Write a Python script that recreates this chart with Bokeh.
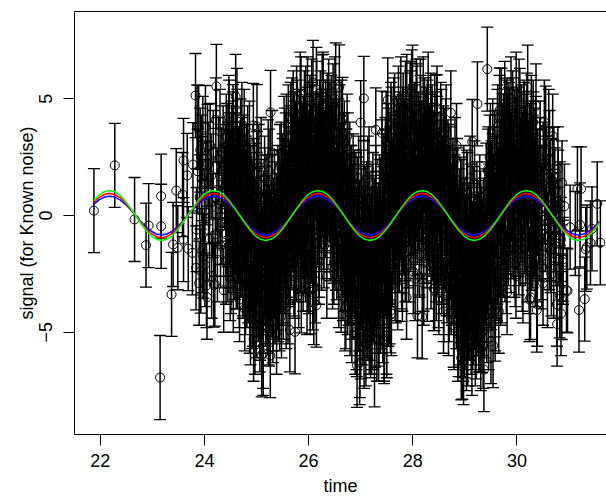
import numpy as np
from bokeh.plotting import figure
from bokeh.models import FixedTicker, LinearAxis, Range1d
from bokeh.embed import file_html
from bokeh.resources import INLINE

# ---------------- data ----------------
known_sigma = 1.8  # half-length of every error bar

# sparse observations on the left
t_left = [21.88, 22.28, 22.66, 22.88, 22.93, 23.15, 23.17, 23.17, 23.37, 23.40,
          23.46, 23.49, 23.58, 23.60, 23.60, 23.67, 23.69, 23.77, 23.78, 23.83,
          23.84, 23.86, 23.89, 23.92, 23.93, 23.95, 23.98, 24.02, 24.04, 24.06,
          24.18, 24.20, 24.23]
v_left = [0.21, 2.15, -0.17, -1.27, -0.43, -6.94, 0.83, -0.46, -3.38, -1.24,
          1.07, -1.38, 0.90, 2.36, -1.03, 1.72, -1.42, -1.60, 2.18, 5.14,
          -2.24, 3.79, 3.78, 2.80, -2.38, 1.58, -1.74, 3.77, -3.00, 2.96,
          -2.98, -2.94, 5.53]

t_trans = [23.85, 23.87, 23.90, 23.91, 23.94, 23.96, 23.97, 24.00, 24.01, 24.03,
           24.05, 24.07, 24.08, 24.10, 24.11, 24.13, 24.14, 24.16, 24.17, 24.21,
           24.22, 24.24, 24.25, 24.27, 24.28, 24.30, 24.31, 24.33, 24.34, 24.36,
           24.37, 24.39]
v_trans = [-0.6, 1.9, -2.9, 0.8, 2.5, -1.5, 3.3, 0.2, -2.1, 1.4,
           -3.5, 2.2, 0.6, -1.0, 3.0, 1.7, -2.6, 0.0, 2.7, -0.8,
           4.1, 1.1, -1.9, 2.4, 0.5, 3.6, -1.3, 1.9, -0.3, 2.9,
           -3.2, 1.2]

# dense core, first pass 24.4 - 25.9
t_core1 = [24.40, 24.41, 24.42, 24.43, 24.45, 24.46, 24.47, 24.48, 24.49, 24.51,
           24.52, 24.53, 24.54, 24.55, 24.56, 24.58, 24.59, 24.60, 24.61, 24.62,
           24.63, 24.65, 24.66, 24.67, 24.68, 24.69, 24.70, 24.72, 24.73, 24.74,
           24.75, 24.76, 24.77, 24.79, 24.80, 24.81, 24.82, 24.83, 24.84, 24.86,
           24.87, 24.88, 24.89,
           24.90, 24.91, 24.93, 24.94, 24.95, 24.96, 24.97, 24.99, 25.00, 25.01,
           25.02, 25.03, 25.04, 25.06, 25.07, 25.08, 25.09, 25.10, 25.11, 25.13,
           25.14, 25.15, 25.16, 25.17, 25.18, 25.20, 25.21, 25.22, 25.23, 25.24,
           25.25, 25.27, 25.28, 25.29, 25.30, 25.31, 25.32, 25.34, 25.35, 25.36,
           25.37, 25.38,
           25.40, 25.41, 25.42, 25.44, 25.45, 25.46, 25.47, 25.48, 25.49, 25.50,
           25.52, 25.53, 25.54, 25.55, 25.56, 25.57, 25.58, 25.59, 25.61, 25.62,
           25.63, 25.64, 25.65, 25.66, 25.67, 25.68, 25.70, 25.71, 25.72, 25.73,
           25.74, 25.75, 25.76, 25.77, 25.79, 25.80, 25.81, 25.82, 25.83, 25.84,
           25.85, 25.86, 25.88, 25.89]
v_core1 = [2.1, -0.8, 3.4, 0.5, -1.9, 1.7, 4.2, -0.3, 2.6, -2.4,
           1.1, 0.2, 3.1, -1.5, 2.8, -0.6, 1.9, 5.1, -2.2, 0.9,
           3.6, -1.1, 1.4, -3.0, 2.2, 0.4, -1.7, 3.9, 1.0, -2.6,
           0.1, 2.5, -0.9, -3.3, 1.6, 0.7, -1.4, 2.9, -2.8, 0.3,
           -4.1, 1.2, -0.5,
           -2.3, 0.6, -3.8, -0.4, 1.5, -1.9, -5.0, -0.2, -2.7, 1.8,
           -1.2, -3.4, 0.3, -2.0, -4.4, -0.8, 2.4, -1.6, -3.1, -5.9,
           -0.1, -2.5, 1.1, -1.3, -3.7, 0.8, -2.9, -0.7, -4.6, 1.9,
           -1.8, -3.2, -0.3, -2.2, 2.7, -1.0, -4.0, -2.6, 0.5, -1.5,
           -3.5, 0.0,
           -1.9, 1.2, -3.6, -0.5, 2.1, -2.4, 0.4, -4.3, -1.1, 1.7,
           -2.8, 3.3, -0.2, -1.6, 2.6, -3.9, 0.9, -0.8, 3.8, -2.1,
           1.4, -4.9, 0.2, 2.9, -1.3, 4.1, -0.6, 1.8, -2.5, 3.5,
           0.7, -1.8, 2.3, 4.6, -0.4, 1.1, -3.0, 2.7, 0.3, 5.2,
           -1.5, 1.9, 3.0, -0.9]

# dense core, first pass 25.9 - 27.4
t_core2 = [25.90, 25.91, 25.92, 25.93, 25.94, 25.96, 25.97, 25.98, 25.99, 26.00,
           26.01, 26.02, 26.03, 26.05, 26.06, 26.07, 26.08, 26.09, 26.10, 26.11,
           26.12, 26.14, 26.15, 26.16, 26.17, 26.18, 26.19, 26.20, 26.21, 26.23,
           26.24, 26.25, 26.26, 26.27, 26.28, 26.29, 26.30, 26.32, 26.33, 26.34,
           26.35, 26.36, 26.37, 26.38,
           26.40, 26.41, 26.42, 26.43, 26.44, 26.46, 26.47, 26.48, 26.49, 26.50,
           26.51, 26.52, 26.54, 26.55, 26.56, 26.57, 26.58, 26.59, 26.60, 26.62,
           26.63, 26.64, 26.65, 26.66, 26.67, 26.68, 26.70, 26.71, 26.72, 26.73,
           26.74, 26.75, 26.76, 26.78, 26.79, 26.80, 26.81, 26.82, 26.83, 26.84,
           26.86, 26.87, 26.88,
           26.90, 26.91, 26.92, 26.94, 26.95, 26.96, 26.97, 26.98, 26.99, 27.00,
           27.02, 27.03, 27.04, 27.05, 27.06, 27.07, 27.08, 27.10, 27.11, 27.12,
           27.13, 27.14, 27.15, 27.16, 27.18, 27.19, 27.20, 27.21, 27.22, 27.23,
           27.24, 27.26, 27.27, 27.28, 27.29, 27.30, 27.31, 27.32, 27.34, 27.35,
           27.36, 27.37, 27.38]
v_core2 = [2.4, -0.7, 4.4, 1.3, -1.9, 3.1, 0.6, 5.0, -2.3, 2.0,
           1.1, 3.8, -0.9, 2.7, 4.9, 0.1, -3.1, 1.6, 3.4, 0.8,
           -1.2, 2.3, 5.4, 1.0, -0.3, 3.0, 1.9, -2.0, 4.0, 0.4,
           2.6, -1.4, 3.6, 1.2, 5.1, -0.5, 2.2, 0.0, 3.3, 1.7,
           -2.6, 4.3, 0.9, 2.8,
           1.5, 3.9, -0.6, 2.4, 0.2, -2.2, 4.7, 1.0, -1.1, 2.9,
           0.5, 5.6, -1.8, 1.3, -0.2, 3.2, -3.0, 0.9, 2.1, -1.4,
           4.0, -0.8, 1.6, -2.7, 0.3, 2.6, -4.0, -0.5, 1.9, -1.9,
           3.4, -3.3, 0.1, -1.2, 2.2, -2.8, -0.4, 1.2, -4.5, -1.6,
           0.7, -2.4, 1.0,
           -2.6, 0.9, -4.8, -1.3, -3.5, 1.6, -0.4, -6.3, -2.1, -5.2,
           0.2, -3.0, -1.0, -4.2, 1.4, -2.4, -0.7, -5.5, -3.6, 0.5,
           -1.9, -4.4, -2.8, 2.0, -0.9, -3.9, -1.7, -5.0, 0.4, -2.3,
           -3.3, -0.2, -4.7, -1.4, 1.2, -2.9, -5.3, -0.6, -3.7, -1.5,
           0.8, -2.2, -4.1]

# dense core, first pass 27.4 - 28.9
t_core3 = [27.40, 27.41, 27.42, 27.43, 27.45, 27.46, 27.47, 27.48, 27.49, 27.50,
           27.51, 27.53, 27.54, 27.55, 27.56, 27.57, 27.58, 27.59, 27.61, 27.62,
           27.63, 27.64, 27.65, 27.66, 27.67, 27.69, 27.70, 27.71, 27.72, 27.73,
           27.74, 27.75, 27.77, 27.78, 27.79, 27.80, 27.81, 27.82, 27.83, 27.85,
           27.86, 27.87, 27.88,
           27.90, 27.91, 27.93, 27.94, 27.95, 27.96, 27.97, 27.98, 27.99, 28.01,
           28.02, 28.03, 28.04, 28.05, 28.06, 28.07, 28.09, 28.10, 28.11, 28.12,
           28.13, 28.14, 28.15, 28.17, 28.18, 28.19, 28.20, 28.21, 28.22, 28.23,
           28.25, 28.26, 28.27, 28.28, 28.29, 28.30, 28.31, 28.33, 28.34, 28.35,
           28.36, 28.37, 28.38,
           28.40, 28.41, 28.42, 28.43, 28.45, 28.46, 28.47, 28.48, 28.49, 28.50,
           28.51, 28.53, 28.54, 28.55, 28.56, 28.57, 28.58, 28.59, 28.61, 28.62,
           28.63, 28.64, 28.65, 28.66, 28.67, 28.69, 28.70, 28.71, 28.72, 28.73,
           28.74, 28.75, 28.77, 28.78, 28.79, 28.80, 28.81, 28.82, 28.83, 28.85,
           28.86, 28.87, 28.88]
v_core3 = [-1.2, 2.3, -3.4, 0.6, -5.4, -0.8, 1.9, -2.5, 3.5, -1.6,
           0.0, -3.8, 2.8, -0.3, -2.0, 1.4, 3.9, -4.2, 0.8, -1.1,
           2.5, -0.5, 4.3, -2.7, 1.1, -0.1, 3.2, -3.1, 1.7, 0.3,
           -1.5, 2.9, 5.0, -0.7, 1.5, -2.3, 3.7, 0.4, 2.0, -1.0,
           4.8, 0.9, -3.5,
           1.8, -1.3, 3.6, 0.5, 4.8, -0.6, 2.2, 5.3, 1.0, -2.4,
           2.7, 0.2, 3.9, -0.9, 1.5, 4.6, -4.3, 2.0, 0.7, 3.1,
           -1.7, 1.2, 4.2, -0.2, 2.5, 0.8, 5.0, -2.9, 1.9, 3.4,
           0.0, -1.1, 2.8, 4.0, 1.3, -0.4, 3.0, 0.6, 2.3, -2.2,
           1.6, 3.8, -0.8,
           2.6, -0.5, 4.2, 1.1, -2.7, 0.4, 3.3, -1.6, 1.8, -3.3,
           0.9, 2.5, -0.9, 3.6, -2.0, 0.1, 1.4, -4.1, 2.8, -1.3,
           0.6, 3.8, -2.5, 1.0, -0.7, 2.1, -3.6, 0.3, -1.8, 4.4,
           -0.4, -2.9, 1.5, -1.0, -4.8, 0.7, 2.4, -2.2, -0.3, -3.9,
           1.1, -1.5, -5.1]

# dense core, first pass 28.9 - 30.4
t_core4 = [28.90, 28.91, 28.92, 28.93, 28.94, 28.95, 28.96, 28.97, 28.98, 28.99,
           29.00, 29.01, 29.02, 29.03, 29.04, 29.05, 29.06, 29.07, 29.08, 29.09,
           29.10, 29.11, 29.12, 29.13, 29.14, 29.15, 29.16, 29.17, 29.18, 29.19,
           29.20, 29.21, 29.22, 29.23, 29.24, 29.25, 29.26, 29.27, 29.28, 29.29,
           29.30, 29.31, 29.32, 29.33, 29.35, 29.36, 29.37, 29.38,
           29.40, 29.41, 29.42, 29.43, 29.45, 29.46, 29.47, 29.48, 29.49, 29.50,
           29.51, 29.53, 29.54, 29.55, 29.56, 29.57, 29.58, 29.60, 29.61, 29.62,
           29.63, 29.64, 29.65, 29.67, 29.68, 29.69, 29.70, 29.71, 29.72, 29.74,
           29.75, 29.76, 29.77, 29.78, 29.79, 29.81, 29.82, 29.83, 29.84, 29.85,
           29.86, 29.88, 29.89,
           29.90, 29.91, 29.92, 29.94, 29.95, 29.96, 29.97, 29.98, 30.00, 30.01,
           30.02, 30.03, 30.04, 30.06, 30.07, 30.08, 30.09, 30.10, 30.12, 30.13,
           30.14, 30.15, 30.16, 30.18, 30.19, 30.20, 30.21, 30.22, 30.24, 30.25,
           30.26, 30.27, 30.28, 30.30, 30.31, 30.32, 30.33, 30.35, 30.36, 30.37,
           30.39, 30.40]
v_core4 = [-1.9, -4.6, 0.7, -6.1, -2.6, -0.4, -3.8, -5.3, 1.2, -2.1,
           -4.0, -0.9, -3.2, -5.7, -1.5, 0.9, -2.8, -4.4, -1.0, -3.5,
           1.6, -2.3, -5.0, -0.6, -3.0, -4.8, -1.7, 0.3, -3.9, -2.0,
           -5.5, -1.2, -3.4, 0.5, -2.5, -4.2, -0.8, -3.1, -1.4, -4.9,
           0.1, -2.7, -1.1, -3.6, -5.6, -0.2, -2.4, -4.3,
           -2.2, 1.3, -4.5, -0.6, 2.0, -3.0, 0.4, -1.8, 3.0, -5.4,
           -0.9, 1.7, -2.6, 0.8, -1.2, 2.7, -3.4, 0.0, 1.5, -2.0,
           3.8, -0.5, -4.1, 2.2, 0.6, -1.4, 4.5, -2.8, 1.0, 3.4,
           -0.3, 2.5, -1.9, 0.9, 4.0, -3.3, 1.8, -0.7, 2.9, 0.3,
           3.6, -1.5, 1.2,
           2.6, -0.4, 4.1, 1.4, -1.7, 3.2, 0.5, -2.6, 2.0, 3.7,
           -0.8, 1.1, 4.9, -1.2, 2.4, 0.2, 3.5, -2.3, 1.6, 3.9,
           0.7, -0.6, 2.8, 1.3, 4.3, -1.9, 0.9, 2.1, -3.6, 1.7,
           3.1, 0.0, -1.4, 2.5, 4.0, -0.9, 1.0, -2.1, 3.3, 0.4,
           -3.8, 1.9]

# dense core, second pass (interleaved times) 24.4 - 27.4
t_core5 = [24.405, 24.415, 24.425, 24.435, 24.445, 24.455, 24.465, 24.475, 24.485, 24.495,
           24.505, 24.515, 24.525, 24.535, 24.545, 24.555, 24.565, 24.575, 24.585, 24.595,
           24.605, 24.615, 24.625, 24.635, 24.645, 24.655, 24.665, 24.675, 24.685, 24.695,
           24.705, 24.715, 24.725, 24.735, 24.745, 24.755, 24.765, 24.775, 24.785, 24.795,
           24.805, 24.815, 24.825, 24.835, 24.845, 24.855, 24.865, 24.875, 24.885, 24.895,
           24.905, 24.915, 24.925, 24.935, 24.945, 24.955, 24.965, 24.975, 24.985, 24.995,
           25.005, 25.015, 25.025, 25.035, 25.045, 25.055, 25.065, 25.075, 25.085, 25.095,
           25.105, 25.115, 25.125, 25.135, 25.145, 25.155, 25.165, 25.175, 25.185, 25.195,
           25.205, 25.215, 25.225, 25.235, 25.245, 25.255, 25.265, 25.275, 25.285, 25.295,
           25.305, 25.315, 25.325, 25.335, 25.345, 25.355, 25.365, 25.375, 25.385, 25.395,
           25.405, 25.415, 25.425, 25.435, 25.445, 25.455, 25.465, 25.475, 25.485, 25.495,
           25.505, 25.515, 25.525, 25.535, 25.545, 25.555, 25.565, 25.575, 25.585, 25.595,
           25.605, 25.615, 25.625, 25.635, 25.645, 25.655, 25.665, 25.675, 25.685, 25.695,
           25.705, 25.715, 25.725, 25.735, 25.745, 25.755, 25.765, 25.775, 25.785, 25.795,
           25.805, 25.815, 25.825, 25.835, 25.845, 25.855, 25.865, 25.875, 25.885, 25.895,
           25.905, 25.915, 25.925, 25.935, 25.945, 25.955, 25.965, 25.975, 25.985, 25.995,
           26.005, 26.015, 26.025, 26.035, 26.045, 26.055, 26.065, 26.075, 26.085, 26.095,
           26.105, 26.115, 26.125, 26.135, 26.145, 26.155, 26.165, 26.175, 26.185, 26.195,
           26.205, 26.215, 26.225, 26.235, 26.245, 26.255, 26.265, 26.275, 26.285, 26.295,
           26.305, 26.315, 26.325, 26.335, 26.345, 26.355, 26.365, 26.375, 26.385, 26.395,
           26.405, 26.415, 26.425, 26.435, 26.445, 26.455, 26.465, 26.475, 26.485, 26.495,
           26.505, 26.515, 26.525, 26.535, 26.545, 26.555, 26.565, 26.575, 26.585, 26.595,
           26.605, 26.615, 26.625, 26.635, 26.645, 26.655, 26.665, 26.675, 26.685, 26.695,
           26.705, 26.715, 26.725, 26.735, 26.745, 26.755, 26.765, 26.775, 26.785, 26.795,
           26.805, 26.815, 26.825, 26.835, 26.845, 26.855, 26.865, 26.875, 26.885, 26.895,
           26.905, 26.915, 26.925, 26.935, 26.945, 26.955, 26.965, 26.975, 26.985, 26.995,
           27.005, 27.015, 27.025, 27.035, 27.045, 27.055, 27.065, 27.075, 27.085, 27.095,
           27.105, 27.115, 27.125, 27.135, 27.145, 27.155, 27.165, 27.175, 27.185, 27.195,
           27.205, 27.215, 27.225, 27.235, 27.245, 27.255, 27.265, 27.275, 27.285, 27.295,
           27.305, 27.315, 27.325, 27.335, 27.345, 27.355, 27.365, 27.375, 27.385, 27.395]
v_core5 = [1.3, -2.0, 0.7, 3.0, -0.4, 2.2, -1.3, 4.0, 0.9, -2.7,
           1.8, 0.0, 2.9, -1.0, 3.5, -3.2, 1.5, 0.4, -1.8, 2.6,
           -0.7, 1.1, 4.5, -2.2, 0.6, 2.0, -0.9, -3.6, 1.7, 3.2,
           -1.4, 0.2, 2.4, -2.5, 0.8, -0.5, 3.6, -4.0, 1.0, -1.6,
           2.1, -3.0, -0.2, 1.4, -2.3, 0.5, 3.1, -1.1, -4.6, 0.9,
           -1.6, -3.9, 0.4, -2.4, -5.3, -0.6, 1.3, -3.0, -1.2, -4.3,
           0.9, -2.0, -0.3, -3.6, 2.1, -1.7, -4.9, -0.8, -2.8, 0.6,
           -3.3, -1.4, -5.6, 0.1, -2.1, 1.6, -0.9, -3.8, -2.5, -0.1,
           -4.1, -1.9, 2.3, -3.1, -0.5, -2.6, -6.0, -1.0, 0.8, -3.4,
           -1.3, -4.5, -0.2, -2.2, 1.0, -3.7, -1.8, -0.7, -5.0, -2.9,
           -3.1, -0.7, 1.0, -2.2, -4.0, 0.3, -1.4, 2.2, -2.9, -0.3,
           1.5, -3.5, 0.6, -1.0, 2.8, -2.4, -0.1, 3.4, -1.7, 0.9,
           -3.7, 2.0, -0.6, 1.3, -2.0, 3.9, 0.2, -1.2, 2.5, -0.4,
           4.4, 1.1, -2.6, 0.5, 3.1, -0.8, 1.8, -1.9, 4.0, 0.7,
           2.3, -1.5, 3.6, 0.0, 1.6, 5.0, -0.5, 2.7, 1.2, -2.3,
           3.3, 0.2, -1.5, 2.1, 4.6, 1.4, -0.8, 3.7, 0.6, 2.5,
           -2.4, 1.8, 4.2, 0.0, 2.9, -1.1, 3.9, 1.2, 5.7, -0.4,
           2.2, 0.8, -2.8, 3.5, 1.6, 4.8, -0.2, 2.0, 0.4, 3.1,
           -1.7, 1.0, 4.4, 2.6, -0.6, 3.3, 0.9, 5.2, 1.5, -1.3,
           2.7, 0.3, 4.0, 1.9, -0.9, 3.6, 0.7, 2.3, 4.9, 1.1,
           0.8, 2.9, -1.0, 4.2, 1.6, -0.3, 3.0, 0.5, -2.0, 2.3,
           5.0, 1.1, -1.4, 3.5, 0.2, -0.9, 2.0, -2.6, 1.3, 3.8,
           -0.5, 0.9, -3.2, 2.5, 0.0, -1.7, 1.5, -0.8, 3.1, -2.3,
           0.6, -3.9, 1.9, -1.1, -0.2, 2.6, -2.9, 0.3, -1.6, -4.2,
           1.2, -0.7, -2.5, 0.4, -3.5, 1.7, -1.3, -0.4, -2.1, -5.0,
           -3.4, -0.8, -5.1, -1.9, 0.7, -2.7, -4.0, -0.3, -6.0, -2.2,
           1.0, -3.1, -1.2, -4.6, -0.5, -2.5, -5.6, -1.5, 0.3, -3.8,
           -2.0, -0.9, -4.3, 1.6, -2.8, -1.4, -5.0, -0.1, -3.3, -2.4,
           -0.6, -4.8, -1.8, 0.9, -3.6, -2.1, -6.4, -1.0, -2.9, 0.1,
           -4.1, -1.6, -3.0, -0.4, -5.3, -2.6, -1.1, 0.6, -3.9, -2.3]

# dense core, second pass (interleaved times) 27.4 - 30.4
t_core6 = [27.405, 27.415, 27.425, 27.435, 27.445, 27.455, 27.465, 27.475, 27.485, 27.495,
           27.505, 27.515, 27.525, 27.535, 27.545, 27.555, 27.565, 27.575, 27.585, 27.595,
           27.605, 27.615, 27.625, 27.635, 27.645, 27.655, 27.665, 27.675, 27.685, 27.695,
           27.705, 27.715, 27.725, 27.735, 27.745, 27.755, 27.765, 27.775, 27.785, 27.795,
           27.805, 27.815, 27.825, 27.835, 27.845, 27.855, 27.865, 27.875, 27.885, 27.895,
           27.905, 27.915, 27.925, 27.935, 27.945, 27.955, 27.965, 27.975, 27.985, 27.995,
           28.005, 28.015, 28.025, 28.035, 28.045, 28.055, 28.065, 28.075, 28.085, 28.095,
           28.105, 28.115, 28.125, 28.135, 28.145, 28.155, 28.165, 28.175, 28.185, 28.195,
           28.205, 28.215, 28.225, 28.235, 28.245, 28.255, 28.265, 28.275, 28.285, 28.295,
           28.305, 28.315, 28.325, 28.335, 28.345, 28.355, 28.365, 28.375, 28.385, 28.395,
           28.405, 28.415, 28.425, 28.435, 28.445, 28.455, 28.465, 28.475, 28.485, 28.495,
           28.505, 28.515, 28.525, 28.535, 28.545, 28.555, 28.565, 28.575, 28.585, 28.595,
           28.605, 28.615, 28.625, 28.635, 28.645, 28.655, 28.665, 28.675, 28.685, 28.695,
           28.705, 28.715, 28.725, 28.735, 28.745, 28.755, 28.765, 28.775, 28.785, 28.795,
           28.805, 28.815, 28.825, 28.835, 28.845, 28.855, 28.865, 28.875, 28.885, 28.895,
           28.905, 28.915, 28.925, 28.935, 28.945, 28.955, 28.965, 28.975, 28.985, 28.995,
           29.005, 29.015, 29.025, 29.035, 29.045, 29.055, 29.065, 29.075, 29.085, 29.095,
           29.105, 29.115, 29.125, 29.135, 29.145, 29.155, 29.165, 29.175, 29.185, 29.195,
           29.205, 29.215, 29.225, 29.235, 29.245, 29.255, 29.265, 29.275, 29.285, 29.295,
           29.305, 29.315, 29.325, 29.335, 29.345, 29.355, 29.365, 29.375, 29.385, 29.395,
           29.405, 29.415, 29.425, 29.435, 29.445, 29.455, 29.465, 29.475, 29.485, 29.495,
           29.505, 29.515, 29.525, 29.535, 29.545, 29.555, 29.565, 29.575, 29.585, 29.595,
           29.605, 29.615, 29.625, 29.635, 29.645, 29.655, 29.665, 29.675, 29.685, 29.695,
           29.705, 29.715, 29.725, 29.735, 29.745, 29.755, 29.765, 29.775, 29.785, 29.795,
           29.805, 29.815, 29.825, 29.835, 29.845, 29.855, 29.865, 29.875, 29.885, 29.895,
           29.905, 29.915, 29.925, 29.935, 29.945, 29.955, 29.965, 29.975, 29.985, 29.995,
           30.005, 30.015, 30.025, 30.035, 30.045, 30.055, 30.065, 30.075, 30.085, 30.095,
           30.105, 30.115, 30.125, 30.135, 30.145, 30.155, 30.165, 30.175, 30.185, 30.195,
           30.205, 30.215, 30.225, 30.235, 30.245, 30.255, 30.265, 30.275, 30.285, 30.295,
           30.305, 30.315, 30.325, 30.335, 30.345, 30.355, 30.365, 30.375, 30.385, 30.395]
v_core6 = [-2.4, 0.3, -4.5, -1.1, 1.7, -3.0, -0.2, 2.4, -1.8, -5.0,
           0.9, -2.6, 3.0, -0.6, 1.2, -3.7, 2.0, -1.3, 0.4, 3.7,
           -2.1, 1.5, -0.4, 4.1, -1.0, 2.6, 0.1, -2.8, 3.3, 1.0,
           -0.9, 2.2, 4.6, -1.5, 0.7, 3.5, -0.1, 1.8, -2.2, 2.9,
           0.5, 4.3, -0.7, 1.3, 3.2, -1.9, 2.1, 0.2, 5.1, 1.4,
           3.0, 0.5, -1.9, 2.4, 4.4, 1.1, -0.5, 3.3, 0.1, 5.5,
           2.0, -1.2, 3.8, 1.5, -2.7, 2.7, 0.8, 4.7, -0.3, 1.9,
           3.5, 0.3, -1.6, 2.2, 4.9, 1.3, -0.9, 3.1, 0.6, 2.5,
           -2.3, 1.0, 4.1, 2.8, -0.1, 3.7, 1.6, -1.3, 2.1, 5.2,
           0.4, 2.9, -0.7, 1.7, 4.3, 0.0, 3.4, 1.2, -1.0, 2.6,
           1.9, -0.7, 3.5, 0.6, -1.9, 2.6, 4.6, -0.2, 1.3, -3.0,
           2.2, 0.3, -1.2, 3.9, 0.9, -2.4, 1.6, -0.5, 2.9, -3.6,
           0.1, 1.8, -1.5, 3.2, -0.9, -2.8, 0.7, 2.3, -4.2, -0.3,
           1.2, -1.8, 2.0, -3.3, 0.4, -0.8, -2.1, 1.0, -4.7, -1.4,
           0.8, -2.6, -0.1, -3.9, 1.5, -1.7, -5.3, -0.6, -2.3, 0.2,
           -3.0, -0.7, -5.1, -2.2, 0.6, -4.0, -1.5, -6.3, -2.8, -0.2,
           -3.7, -1.1, -4.8, 1.0, -2.5, -5.5, -1.8, -3.4, -0.5, -4.4,
           -2.0, 0.4, -3.1, -5.9, -1.3, -2.7, -4.6, -0.9, 1.4, -3.5,
           -2.3, -5.2, -1.0, -3.8, -0.3, -2.6, -4.9, -1.6, 0.8, -3.3,
           -5.7, -2.1, -0.6, -4.2, -1.2, -3.0, -6.6, -1.9, 0.2, -2.9,
           -1.3, -3.6, 0.5, -2.4, 1.9, -4.8, -0.7, 2.5, -1.9, 0.2,
           -3.1, 1.4, -0.4, 3.2, -2.2, 0.8, -1.1, 2.0, -4.0, 0.0,
           1.6, -2.7, 3.6, -0.5, 1.1, -1.6, 4.2, 0.5, -2.9, 2.3,
           -0.2, 3.0, 1.3, -1.7, 2.7, 0.9, 4.8, -0.9, 1.8, -2.4,
           3.4, 0.4, 2.1, -1.2, 3.9, 1.0, -0.6, 2.6, 5.0, 0.7,
           1.7, 4.4, -0.9, 2.3, 0.2, 3.6, -2.1, 1.2, 5.2, 2.7,
           -0.5, 3.1, 0.8, -1.6, 2.0, 4.5, 1.4, -0.2, 3.8, 0.5,
           2.6, -2.8, 1.0, 4.0, 0.0, 2.9, -1.1, 3.4, 1.8, -0.7,
           5.5, 2.2, 0.3, -2.4, 3.0, 1.5, -0.4, 4.2, 0.9, 2.4,
           -1.3, 3.5, 1.1, -0.8, 2.8, 0.6, 4.7, -1.9, 1.9, 0.1]

# thinning cloud 30.4 - 30.9
t_tail = [30.405, 30.425, 30.445, 30.465, 30.485, 30.505, 30.525, 30.545, 30.565, 30.585,
          30.605, 30.625, 30.645, 30.665, 30.685, 30.705, 30.725, 30.745, 30.765, 30.785,
          30.805, 30.825, 30.845, 30.865, 30.885]
v_tail = [1.2, -1.0, 3.1, 0.3, -2.2, 2.2, 4.0, -0.6, 1.6, -3.0,
          0.8, 2.7, -1.5, 0.0, 3.4, -2.6, 1.1, -0.3, -3.8, 2.0,
          -1.2, 0.5, -4.2, 1.4, -2.0]

# sparse observations on the right
t_right = [30.42, 30.44, 30.46, 30.48, 30.50, 30.53, 30.55, 30.57, 30.59, 30.61,
           30.62, 30.64, 30.66, 30.68, 30.70, 30.71, 30.73, 30.75, 30.77, 30.79,
           30.82, 30.84, 30.86, 30.88, 30.91, 30.95, 30.97, 31.02, 31.12, 31.16,
           31.19, 31.21, 31.23, 31.30, 31.32, 31.34, 31.41, 31.44, 31.54, 31.60]
v_right = [-0.3, 2.4, -1.8, 1.2, -2.9, 0.6, 3.74, 2.0, -0.9, 3.6,
           -1.38, 1.5, -2.5, 1.46, 0.18, 1.99, -0.6, -1.2, -4.65, 1.0,
           -3.44, -1.02, -3.51, -1.88, 0.4, -3.2, -3.23, -0.5, -0.77, 1.14,
           -4.05, -0.4, 1.14, -3.58, -1.45, -1.35, -1.17, -0.57, 0.5, -1.17]

# outlying observations on the edges of the cloud
t_ext = [24.55, 24.94, 25.27, 25.01, 26.26, 26.59, 26.65, 27.00, 27.06, 27.29,
         27.41, 27.52, 27.80, 27.97, 28.07, 28.46, 28.84, 29.14, 29.24, 29.43,
         29.62, 29.67, 29.81, 29.84, 30.10, 30.36,
         25.10, 25.24, 25.74, 25.86, 25.97, 26.03, 26.10, 26.15, 26.93, 27.19,
         27.35, 27.45, 27.50, 27.57, 27.80, 28.18, 28.28, 28.40, 28.42, 28.95,
         28.99, 29.33, 29.54, 29.58, 30.26, 30.38]
v_ext = [3.81, 3.86, 4.42, 3.81, 5.08, 5.51, 4.12, 3.98, 5.02, 3.67,
         3.53, 4.95, 3.38, 4.73, 4.90, 4.23, 3.00, 3.17, 4.78, 6.27,
         2.53, 4.52, 4.09, 3.67, 1.68, 3.10,
         -5.97, -4.65, -4.98, -3.23, -3.30, -3.27, -3.73, -3.84, -6.42, -5.15,
         -4.65, -5.30, -5.15, -4.08, -2.73, -4.34, -2.73, -3.13, -3.13, -6.07,
         -5.15, -4.93, -5.57, -4.44, -3.51, -4.05]

# fitted model curves, read at steps of 0.1 in time
t_curve = [21.88, 21.98, 22.08, 22.18, 22.28, 22.38, 22.48, 22.58, 22.68, 22.78,
           22.88, 22.98, 23.08, 23.18, 23.28, 23.38, 23.48, 23.58, 23.68, 23.78,
           23.88, 23.98, 24.08, 24.18, 24.28, 24.38, 24.48, 24.58, 24.68, 24.78,
           24.88, 24.98, 25.08, 25.18, 25.28, 25.38, 25.48, 25.58, 25.68, 25.78,
           25.88, 25.98, 26.08, 26.18, 26.28, 26.38, 26.48, 26.58, 26.68, 26.78,
           26.88, 26.98, 27.08, 27.18, 27.28, 27.38, 27.48, 27.58, 27.68, 27.78,
           27.88, 27.98, 28.08, 28.18, 28.28, 28.38, 28.48, 28.58, 28.68, 28.78,
           28.88, 28.98, 29.08, 29.18, 29.28, 29.38, 29.48, 29.58, 29.68, 29.78,
           29.88, 29.98, 30.08, 30.18, 30.28, 30.38, 30.48, 30.58, 30.68, 30.78,
           30.88, 30.98, 31.08, 31.18, 31.28, 31.38, 31.48, 31.58]
red_curve = [0.56, 0.77, 0.90, 0.95, 0.90, 0.77, 0.56, 0.29, 0.00, -0.29,
             -0.56, -0.77, -0.90, -0.95, -0.90, -0.77, -0.56, -0.29, 0.00, 0.29,
             0.56, 0.77, 0.90, 0.95, 0.90, 0.77, 0.56, 0.29, 0.00, -0.29,
             -0.56, -0.77, -0.90, -0.95, -0.90, -0.77, -0.56, -0.29, 0.00, 0.29,
             0.56, 0.77, 0.90, 0.95, 0.90, 0.77, 0.56, 0.29, 0.00, -0.29,
             -0.56, -0.77, -0.90, -0.95, -0.90, -0.77, -0.56, -0.29, 0.00, 0.29,
             0.56, 0.77, 0.90, 0.95, 0.90, 0.77, 0.56, 0.29, 0.00, -0.29,
             -0.56, -0.77, -0.90, -0.95, -0.90, -0.77, -0.56, -0.29, 0.00, 0.29,
             0.56, 0.77, 0.90, 0.95, 0.90, 0.77, 0.56, 0.29, 0.00, -0.29,
             -0.56, -0.77, -0.90, -0.95, -0.90, -0.77, -0.56, -0.29]
green_curve = [0.63, 0.87, 1.02, 1.07, 1.02, 0.87, 0.63, 0.33, 0.00, -0.33,
               -0.63, -0.87, -1.02, -1.07, -1.02, -0.87, -0.63, -0.33, 0.00, 0.33,
               0.63, 0.87, 1.02, 1.07, 1.02, 0.87, 0.63, 0.33, 0.00, -0.33,
               -0.63, -0.87, -1.02, -1.07, -1.02, -0.87, -0.63, -0.33, 0.00, 0.33,
               0.63, 0.87, 1.02, 1.07, 1.02, 0.87, 0.63, 0.33, 0.00, -0.33,
               -0.63, -0.87, -1.02, -1.07, -1.02, -0.87, -0.63, -0.33, 0.00, 0.33,
               0.63, 0.87, 1.02, 1.07, 1.02, 0.87, 0.63, 0.33, 0.00, -0.33,
               -0.63, -0.87, -1.02, -1.07, -1.02, -0.87, -0.63, -0.33, 0.00, 0.33,
               0.63, 0.87, 1.02, 1.07, 1.02, 0.87, 0.63, 0.33, 0.00, -0.33,
               -0.63, -0.87, -1.02, -1.07, -1.02, -0.87, -0.63, -0.33]
blue_curve = [0.49, 0.67, 0.79, 0.83, 0.79, 0.67, 0.49, 0.26, 0.00, -0.26,
              -0.49, -0.67, -0.79, -0.83, -0.79, -0.67, -0.49, -0.26, 0.00, 0.26,
              0.49, 0.67, 0.79, 0.83, 0.79, 0.67, 0.49, 0.26, 0.00, -0.26,
              -0.49, -0.67, -0.79, -0.83, -0.79, -0.67, -0.49, -0.26, 0.00, 0.26,
              0.49, 0.67, 0.79, 0.83, 0.79, 0.67, 0.49, 0.26, 0.00, -0.26,
              -0.49, -0.67, -0.79, -0.83, -0.79, -0.67, -0.49, -0.26, 0.00, 0.26,
              0.49, 0.67, 0.79, 0.83, 0.79, 0.67, 0.49, 0.26, 0.00, -0.26,
              -0.49, -0.67, -0.79, -0.83, -0.79, -0.67, -0.49, -0.26, 0.00, 0.26,
              0.49, 0.67, 0.79, 0.83, 0.79, 0.67, 0.49, 0.26, 0.00, -0.26,
              -0.49, -0.67, -0.79, -0.83, -0.79, -0.67, -0.49, -0.26]

x_ticks = [22, 24, 26, 28, 30]
y_ticks = [-5, 0, 5]

# ---------------- assemble ----------------
def pairs(t, v):
    n = min(len(t), len(v))
    return list(t[:n]), list(v[:n])

T, V = [], []
for tt, vv in [(t_left, v_left), (t_trans, v_trans), (t_core1, v_core1),
               (t_core2, v_core2), (t_core3, v_core3), (t_core4, v_core4),
               (t_core5, v_core5), (t_core6, v_core6), (t_tail, v_tail),
               (t_right, v_right), (t_ext, v_ext)]:
    a, b = pairs(tt, vv)
    T += a
    V += b
T = np.array(T)
V = np.array(V)
lo = V - known_sigma
hi = V + known_sigma

FONT = "Liberation Sans"

p = figure(width=606, height=498, output_backend="svg", toolbar_location=None,
           x_range=Range1d(21.507, 31.718), y_range=Range1d(-9.38, 8.74),
           min_border_left=74, min_border_right=0, min_border_top=11,
           min_border_bottom=62)
p.grid.visible = False
p.outline_line_color = None
p.background_fill_color = "white"
p.border_fill_color = "white"

xa = p.xaxis[0]
xa.ticker = FixedTicker(ticks=x_ticks)
xa.axis_label = "time"
xa.major_label_standoff = 8
xa.axis_label_standoff = 6
ya = p.yaxis[0]
ya.ticker = FixedTicker(ticks=y_ticks)
ya.axis_label = "signal (for Known noise)"
ya.major_label_orientation = "vertical"
ya.major_label_standoff = 11
ya.axis_label_standoff = 0
for ax in [xa, ya]:
    ax.major_tick_out = 11
    ax.major_tick_in = 0
    ax.minor_tick_out = 0
    ax.minor_tick_in = 0
    ax.axis_line_color = "black"
    ax.axis_line_width = 1
    ax.major_tick_line_color = "black"
    ax.major_label_text_font = FONT
    ax.major_label_text_font_size = "18px"
    ax.major_label_text_color = "black"
    ax.axis_label_text_font = FONT
    ax.axis_label_text_font_size = "18px"
    ax.axis_label_text_font_style = "normal"
    ax.axis_label_text_color = "black"

# top side of the box
top = LinearAxis(ticker=FixedTicker(ticks=[]), major_tick_out=0, major_tick_in=0,
                 minor_tick_out=0, minor_tick_in=0, major_label_standoff=0,
                 major_label_text_font_size="0px", axis_line_color="black")
p.add_layout(top, "above")

# error bars
p.segment(x0=T, y0=lo, x1=T, y1=hi, line_color="black", line_width=1.5)
p.scatter(x=T, y=hi, marker="dash", size=12, line_color="black", line_width=1.3)
p.scatter(x=T, y=lo, marker="dash", size=12, line_color="black", line_width=1.3)
# observations
p.scatter(x=T, y=V, marker="circle", size=9, fill_color=None,
          line_color="black", line_width=1)

# model curves
p.line(t_curve, blue_curve, line_color="#0000FF", line_width=1.5)
p.line(t_curve, red_curve, line_color="#FF0000", line_width=1.5)
p.line(t_curve, green_curve, line_color="#00FF00", line_width=1.5)

open("out.html", "w").write(file_html(p, INLINE))
